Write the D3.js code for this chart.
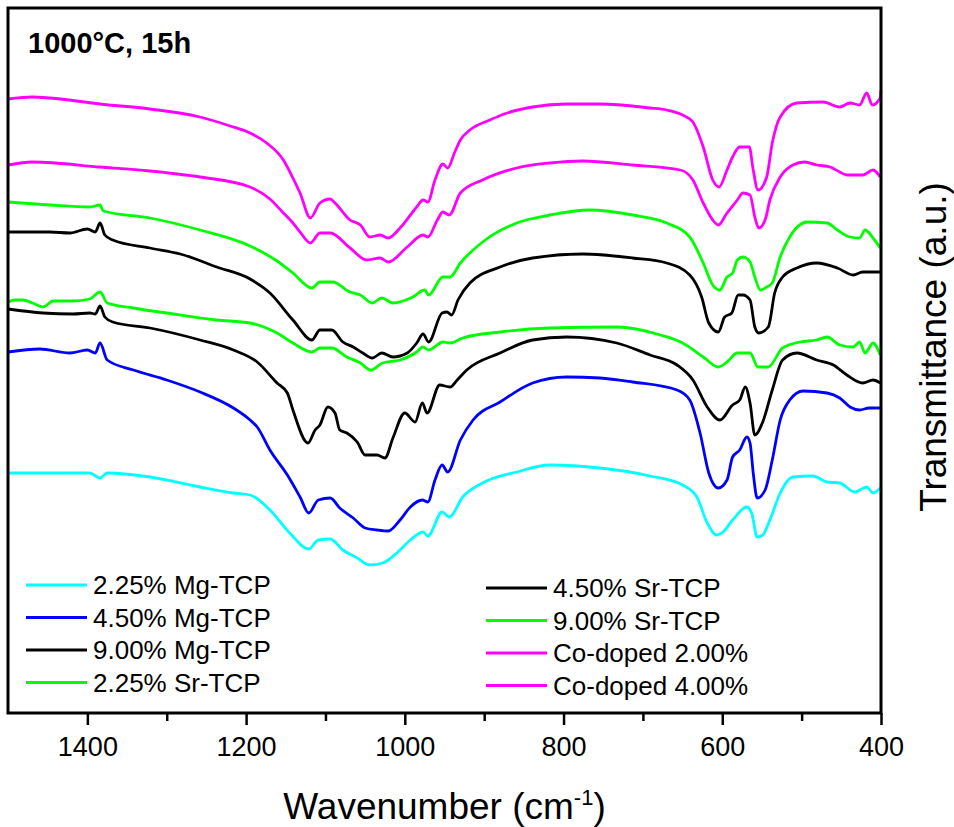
<!DOCTYPE html>
<html>
<head>
<meta charset="utf-8">
<script src="https://cdn.jsdelivr.net/npm/d3@7"></script>
<style>
  body { margin: 0; background: #fff; }
  text { font-family: "Liberation Sans", Arial, sans-serif; fill: #000; }
</style>
</head>
<body>
<div id="chart"></div>
<script>
// FTIR spectra, [wavenumber cm-1, transmittance a.u.]
const mg225 = [[1500,24.0],[1447,24.0],[1397,24.0],[1384,23.5],[1375,24.0],[1321,23.6],[1258,22.6],[1216,22.0],[1195,21.8],[1170,20.3],[1145,18.0],[1121,16.4],[1109,17.3],[1094,17.4],[1078,16.3],[1060,15.5],[1044,14.8],[1028,15.0],[1010,16.0],[993,17.3],[977,18.1],[971,17.7],[953,20.1],[944,19.6],[927,21.6],[902,23.0],[859,24.1],[817,24.8],[754,24.5],[691,23.7],[650,22.8],[632,21.6],[619,19.0],[607,17.8],[599,18.1],[587,19.3],[569,20.6],[563,20.0],[556,17.6],[549,17.8],[540,19.3],[527,22.0],[511,23.6],[486,23.7],[468,23.1],[452,23.0],[433,22.1],[418,22.6],[410,22.0],[401,22.5]];
const mg450 = [[1500,36.1],[1460,36.4],[1422,36.0],[1400,36.3],[1390,36.0],[1384,37.0],[1375,35.3],[1342,34.3],[1300,33.3],[1258,32.1],[1216,30.5],[1195,29.3],[1186,28.6],[1170,26.3],[1148,23.8],[1132,21.6],[1121,20.0],[1109,21.3],[1094,21.5],[1082,20.5],[1065,19.5],[1050,18.5],[1035,18.3],[1021,18.2],[1006,19.3],[993,20.6],[978,21.3],[971,21.1],[962,23.3],[953,24.8],[946,24.1],[930,27.3],[914,29.3],[880,31.1],[839,33.0],[796,33.6],[754,33.5],[713,33.1],[657,32.3],[641,31.3],[628,28.0],[617,24.0],[605,22.5],[594,23.3],[587,25.6],[578,26.3],[569,27.6],[565,27.0],[561,24.0],[556,21.5],[546,22.3],[537,25.3],[527,29.3],[515,31.3],[498,32.2],[468,32.0],[452,31.5],[439,30.6],[427,30.3],[415,30.5],[401,30.5]];
const mg900 = [[1500,40.4],[1456,40.0],[1418,39.9],[1397,40.0],[1390,39.9],[1384,40.7],[1378,39.6],[1368,39.1],[1321,38.5],[1258,37.3],[1216,36.3],[1186,35.1],[1161,33.0],[1148,32.0],[1141,30.3],[1122,27.0],[1113,28.3],[1107,28.8],[1097,30.6],[1088,30.0],[1082,28.3],[1073,28.0],[1060,27.1],[1050,25.8],[1035,25.8],[1025,25.5],[1015,27.5],[1000,30.0],[987,29.1],[978,31.0],[972,30.0],[956,32.8],[943,32.6],[934,33.3],[922,34.3],[880,36.0],[839,37.3],[796,37.6],[733,37.0],[691,35.8],[657,34.8],[637,33.3],[619,30.6],[603,29.3],[587,30.8],[578,31.3],[571,32.6],[565,31.0],[559,27.8],[549,29.1],[537,32.3],[524,35.3],[506,36.0],[481,35.3],[460,34.8],[443,33.8],[423,33.0],[410,33.3],[401,33.0]];
const sr225 = [[1500,41.1],[1491,41.3],[1481,41.3],[1469,41.0],[1456,40.6],[1443,41.2],[1418,41.2],[1397,41.4],[1384,42.1],[1375,41.0],[1342,40.5],[1300,40.0],[1237,39.3],[1195,39.0],[1161,38.0],[1141,37.0],[1117,36.1],[1107,36.5],[1092,36.5],[1073,35.6],[1056,35.0],[1043,34.3],[1028,35.0],[1006,35.3],[985,36.1],[977,36.6],[970,36.3],[952,37.1],[943,37.0],[927,37.5],[880,38.1],[817,38.5],[733,38.6],[678,37.8],[650,37.0],[624,35.6],[605,34.6],[594,35.1],[581,36.0],[565,36.0],[555,34.6],[542,34.6],[524,36.5],[502,37.1],[481,37.3],[468,37.6],[452,36.8],[435,36.6],[427,37.1],[420,36.0],[410,37.0],[401,35.8]];
const sr450 = [[1500,48.1],[1447,48.1],[1422,48.0],[1400,48.4],[1390,48.1],[1384,49.0],[1378,47.8],[1368,47.3],[1321,46.5],[1283,45.9],[1237,44.6],[1195,43.4],[1170,42.0],[1141,39.3],[1117,37.3],[1107,38.3],[1092,38.3],[1078,37.1],[1065,36.6],[1053,36.0],[1041,35.5],[1029,36.0],[1015,35.6],[997,36.0],[985,37.0],[977,37.9],[970,37.1],[953,40.0],[947,40.1],[941,39.8],[933,41.3],[918,43.0],[880,44.6],[839,45.5],[776,45.9],[713,45.5],[670,45.0],[641,43.8],[626,41.6],[617,39.0],[605,38.1],[597,39.6],[588,40.0],[580,41.8],[574,41.8],[565,41.3],[559,38.6],[554,38.0],[542,38.6],[534,42.0],[524,43.6],[506,44.5],[481,45.0],[455,44.5],[435,43.8],[423,44.1],[401,44.1]];
const sr900 = [[1500,51.1],[1447,50.8],[1397,50.6],[1384,50.8],[1380,50.2],[1321,49.5],[1258,48.3],[1195,46.7],[1161,45.2],[1141,44.0],[1117,42.5],[1107,43.1],[1091,43.1],[1069,42.1],[1056,41.8],[1041,41.0],[1029,41.5],[1015,41.0],[990,41.6],[975,42.3],[970,41.8],[952,43.6],[943,43.6],[930,45.0],[902,47.1],[859,49.0],[817,49.8],[767,50.3],[713,49.8],[670,49.0],[641,47.6],[624,45.0],[612,42.8],[603,42.3],[594,43.6],[587,44.0],[581,45.3],[574,45.6],[565,45.1],[559,43.6],[552,42.3],[544,42.6],[537,43.0],[527,45.6],[515,47.6],[493,49.1],[468,49.0],[455,48.3],[439,47.6],[427,47.5],[420,48.3],[410,47.5],[401,46.5]];
const co200 = [[1500,54.8],[1469,55.1],[1384,54.6],[1321,54.2],[1258,53.6],[1195,52.6],[1170,51.4],[1153,50.0],[1141,49.0],[1132,48.1],[1119,47.0],[1107,48.0],[1094,48.0],[1069,46.5],[1048,45.3],[1031,45.5],[1021,45.1],[997,46.6],[977,47.8],[971,47.6],[959,49.3],[952,50.1],[944,49.8],[930,52.0],[902,53.3],[859,54.5],[817,55.0],[776,55.2],[713,54.8],[653,54.3],[637,53.3],[624,51.0],[612,49.3],[605,48.8],[594,50.0],[581,51.3],[574,52.0],[565,51.8],[559,49.6],[554,48.5],[546,49.3],[540,51.3],[527,53.6],[511,54.8],[496,55.1],[481,54.8],[464,54.6],[452,54.1],[443,53.8],[423,53.8],[410,54.3],[401,53.6]];
const co400 = [[1500,61.4],[1469,61.6],[1447,61.5],[1384,60.9],[1321,60.4],[1258,59.6],[1220,58.7],[1195,58.0],[1174,57.0],[1153,55.3],[1141,53.5],[1132,52.0],[1119,49.5],[1107,51.0],[1094,51.4],[1088,51.0],[1069,49.3],[1056,48.8],[1044,47.6],[1031,47.8],[1021,47.5],[1006,48.5],[985,50.6],[977,51.3],[971,51.1],[962,53.3],[952,54.9],[946,54.5],[937,56.1],[930,57.3],[918,58.3],[893,59.3],[871,60.0],[839,60.6],[796,60.9],[754,60.9],[691,60.5],[670,60.3],[650,59.8],[637,59.1],[624,56.6],[612,53.3],[604,52.6],[594,54.3],[587,55.6],[578,56.6],[566,56.6],[561,54.3],[555,52.3],[544,53.6],[537,57.0],[527,59.6],[506,61.0],[473,61.1],[452,60.6],[439,61.0],[427,60.8],[418,62.0],[411,60.8],[401,61.5],[400,62.3]];

const seriesNames = ["2.25% Mg-TCP", "4.50% Mg-TCP", "9.00% Mg-TCP", "2.25% Sr-TCP",
                     "4.50% Sr-TCP", "9.00% Sr-TCP", "Co-doped 2.00%", "Co-doped 4.00%"];
const seriesData = [mg225, mg450, mg900, sr225, sr450, sr900, co200, co400];
const seriesColors = ["#00ffff", "#0000ff", "#000000", "#00ff00", "#000000", "#00ff00", "#ff00ff", "#ff00ff"];
const majorTicks = [1400, 1200, 1000, 800, 600, 400];
const minorTicks = [1300, 1100, 900, 700, 500];

const WIDTH = 954, HEIGHT = 827;
const MARGINS = {left: 8, right: 73, top: 8, bottom: 114};

const svg = d3.select("#chart").append("svg")
    .attr("width", WIDTH)
    .attr("height", HEIGHT);

const X_SCALE = d3.scaleLinear()
    .domain([1500, 400])
    .range([MARGINS.left, WIDTH - MARGINS.right]);

const Y_SCALE = d3.scaleLinear()
    .domain([0, 70.5])
    .range([HEIGHT - MARGINS.bottom, MARGINS.top]);

const line = d3.line()
    .x(d => X_SCALE(d[0]))
    .y(d => Y_SCALE(d[1]))
    .curve(d3.curveMonotoneX);

// spectra
svg.append("g").selectAll("path")
  .data(seriesData)
  .enter()
  .append("path")
    .attr("d", d => line(d))
    .attr("fill", "none")
    .attr("stroke", (d, i) => seriesColors[i])
    .attr("stroke-width", 2.8)
    .attr("stroke-linejoin", "round");

// x axis (major + minor ticks)
const yBottom = HEIGHT - MARGINS.bottom;
svg.append("g")
    .attr("transform", `translate(0,${yBottom})`)
    .call(d3.axisBottom(X_SCALE).tickValues(minorTicks).tickSize(8).tickFormat(""))
    .call(g => g.select(".domain").remove())
    .call(g => g.selectAll("line").attr("stroke-width", 2.5));

svg.append("g")
    .attr("transform", `translate(0,${yBottom})`)
    .call(d3.axisBottom(X_SCALE).tickValues(majorTicks).tickSize(12).tickPadding(12).tickFormat(d3.format("d")))
    .call(g => g.select(".domain").remove())
    .call(g => g.selectAll("line").attr("stroke-width", 2.5))
    .call(g => g.selectAll("text")
        .attr("font-size", 27)
        .attr("font-family", "Liberation Sans, Arial, sans-serif")
        .attr("fill", "#000"));

// frame
svg.append("rect")
    .attr("x", MARGINS.left)
    .attr("y", MARGINS.top)
    .attr("width", WIDTH - MARGINS.left - MARGINS.right)
    .attr("height", HEIGHT - MARGINS.top - MARGINS.bottom)
    .attr("fill", "none")
    .attr("stroke", "#000")
    .attr("stroke-width", 3);

// axis titles
const xTitle = svg.append("text")
    .attr("x", (MARGINS.left + WIDTH - MARGINS.right) / 2)
    .attr("y", 819)
    .attr("text-anchor", "middle")
    .attr("font-size", 37);
xTitle.append("tspan").text("Wavenumber (cm");
xTitle.append("tspan").attr("dy", -14).attr("font-size", 22).text("-1");
xTitle.append("tspan").attr("dy", 14).text(")");

svg.append("text")
    .attr("transform", "translate(946,347) rotate(-90)")
    .attr("text-anchor", "middle")
    .attr("font-size", 37)
    .text("Transmittance (a.u.)");

// annotation
svg.append("text")
    .attr("x", 28)
    .attr("y", 53)
    .attr("font-size", 29)
    .attr("font-weight", "bold")
    .text("1000°C, 15h");

// legend, two columns of four
const legend = svg.append("g");
seriesNames.forEach((name, i) => {
  const col = Math.floor(i / 4), row = i % 4;
  const x0 = col === 0 ? 26 : 486;
  const yc = (col === 0 ? 585 : 588) + row * 32.5;
  legend.append("line")
      .attr("x1", x0).attr("x2", x0 + 61)
      .attr("y1", yc).attr("y2", yc)
      .attr("stroke", seriesColors[i])
      .attr("stroke-width", 3);
  legend.append("text")
      .attr("x", x0 + 67)
      .attr("y", yc + 9)
      .attr("font-size", 26)
      .text(name);
});
</script>
</body>
</html>
